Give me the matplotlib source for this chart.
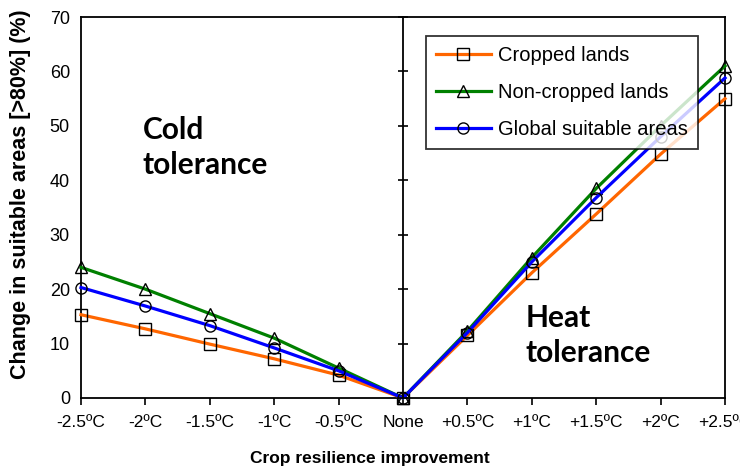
import numpy as np
import matplotlib
matplotlib.use("Agg")
import matplotlib.pyplot as plt

# Change in suitable areas for each step of crop resilience improvement
steps = ["-2.5ºC", "-2ºC", "-1.5ºC", "-1ºC", "-0.5ºC", "None",
         "+0.5ºC", "+1ºC", "+1.5ºC", "+2ºC", "+2.5ºC"]
cropped = [15.3, 12.7, 9.9, 7.2, 4.2, 0, 11.5, 23.0, 33.8, 44.8, 55.0]
non_cropped = [24.0, 20.0, 15.5, 11.0, 5.5, 0, 12.3, 25.8, 38.5, 50.0, 61.0]
global_areas = [20.3, 16.9, 13.3, 9.2, 5.0, 0, 12.0, 25.0, 36.8, 48.0, 58.8]

plt.rcParams["font.family"] = ["Liberation Sans", "DejaVu Sans"]

fig = plt.figure(figsize=(7.4, 4.7), dpi=100)
ax = fig.add_axes([81 / 740, 1 - 398 / 470, 644 / 740, 381 / 470])

x = np.arange(len(steps))
series = [
    (cropped, "#ff6600", "s", "Cropped lands"),
    (non_cropped, "#008000", "^", "Non-cropped lands"),
    (global_areas, "#0000ff", "o", "Global suitable areas"),
]
for vals, color, marker, label in series:
    ax.plot(x, vals, color=color, lw=2.3, marker=marker, ms=8,
            mfc="none", mec="black", mew=1.0, label=label, clip_on=False,
            zorder=3)

ax.set_xlim(0, 10)
ax.set_ylim(0, 70)
ax.set_xticks(x)
ax.set_xticklabels(steps, fontsize=12.5)
ax.set_yticks(range(0, 71, 10))
ax.tick_params(axis="y", length=0, labelsize=13, pad=8)
ax.tick_params(axis="x", direction="out", length=5, width=1.2, pad=7)
for sp in ax.spines.values():
    sp.set_linewidth(1.3)

# middle divider with its own tick marks
ax2 = ax.twinx()
ax2.set_ylim(0, 70)
ax2.set_yticks(range(0, 71, 10))
ax2.spines["right"].set_position(("axes", 0.5))
ax2.spines["right"].set_linewidth(1.3)
ax2.tick_params(axis="y", direction="inout", length=7, width=1.2,
                labelright=False)
for s in ["left", "top", "bottom"]:
    ax2.spines[s].set_visible(False)

ax.set_xlabel("Crop resilience improvement", fontsize=12.5,
              fontweight="bold")
ax.xaxis.set_label_coords((370 - 81) / 644, -0.14)
ax.set_ylabel("Change in suitable areas [>80%] (%)", fontsize=15.5,
              fontweight="bold")
ax.yaxis.set_label_coords(-0.078, 0.535)

ax.text(0.96, 46.1, "Cold\ntolerance", fontsize=21.5, fontweight="bold",
        family="Lato", linespacing=1.3, va="center", ha="left")
ax.text(6.9, 11.5, "Heat\ntolerance", fontsize=21.5, fontweight="bold",
        family="Lato", linespacing=1.3, va="center", ha="left")

leg = ax.legend(loc="upper left", bbox_to_anchor=(0.536, 0.950),
                fontsize=14.5, frameon=True, fancybox=False, edgecolor="black",
                handlelength=2.7, borderpad=0.5, labelspacing=0.88,
                handletextpad=0.35, borderaxespad=0)
leg.get_frame().set_linewidth(1.3)
leg.set_zorder(5)

fig.savefig("out.png", dpi=100)
